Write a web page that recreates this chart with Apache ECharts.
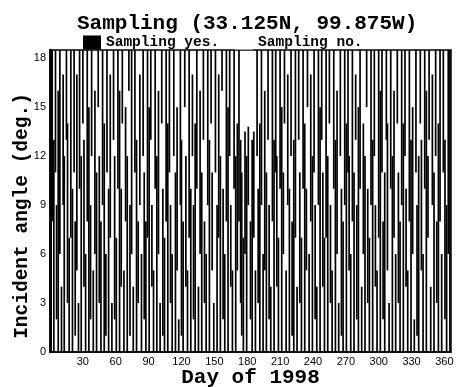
<!DOCTYPE html>
<html>
<head>
<meta charset="utf-8">
<script src="https://cdn.jsdelivr.net/npm/echarts@6/dist/echarts.min.js"></script>
<style>html,body{margin:0;padding:0;background:#fff;}#c{width:458px;height:387px;}</style>
</head>
<body>
<div id="c"></div>
<script>
// Sampling segments: day of year, lower and upper incident angle (deg.)
const days = [1,2,3.5,5,6,7.5,9,10.5,12,13,15,16,17.5,19,20.5,22,23,24.5,26,27,28.5,30,31,32.5,34,35.5,37,38,39.5,41,42.5,44,45,46.5,48,49.5,51,52,53.5,55,56.5,58,59,60.5,62,63.5,65,66,67.5,69,70.5,72,73,74.5,76,77.5,79,80.5,82,83.5,85,86,87.5,89,90.5,92,93,94.5,96,97.5,99,100.5,102,103,104.5,106,107.5,109,110,111.5,113,114.5,116,117.5,119,120,121.5,123,124,125.5,127,128.5,130,131,132.5,134,135.5,137,138.5,140,141,142.5,144,145.5,147,148,149.5,151,152.5,154,155.5,157,158,159.5,161,162.5,164,165,166.5,168,169.5,171,172.5,174,175,176.5,178,179.5,181,183,184.5,186,187.5,189,190,191.5,193,194.5,196,197.5,199,200,201.5,203,204.5,206,207,208.5,210,211.5,213,214,215.5,217,218.5,220,221,222.5,224,225.5,227,228,229.5,231,232.5,234,235,236.5,238,239.5,241,242,243.5,245,246.5,248,249,250.5,252,253.5,255,256,257.5,259,260.5,262,263.5,265,266,267.5,269,270.5,272,273,274.5,276,277.5,279,280,281.5,283,284.5,286,287.5,289,290,291.5,293,294.5,296,297,298.5,300,301.5,303,304,305.5,307,308,309.5,311,312.5,314,315.5,317,318,319.5,321,322.5,324,325,326.5,328,329.5,331,332.5,334,335,336.5,338,339,340.5,342,343.5,345,346,347.5,349,350.5,352,353,354.5,356,357.5,359,360.5,362,363.5,365];
const lows = [0,8,0,11,2,0,6,0,9,0,13,3,0,7,0,11,1,5,0,10,0,14,4,0,8,0,2,12,0,6,0,15,3,0,9,0,1,11,0,7,0,13,2,0,10,0,4,14,0,8,0,16,1,6,0,11,0,3,9,0,12,2,0,7,0,13,4,0,10,0,6,0,14,1,0,8,0,11,3,0,12,0,5,0,9,1,0,15,4,0,7,0,12,2,0,10,0,6,0,13,3,0,9,0,14,5,0,11,0,7,0,16,2,0,8,0,12,4,0,10,0,5,8,3,1,0,6,0,9,2,0,7,0,12,3,0,9,0,5,0,13,2,0,8,0,11,4,0,10,0,6,14,0,9,0,12,1,0,7,0,13,3,0,10,0,5,15,0,8,0,11,2,0,9,0,13,4,0,7,0,14,3,0,10,0,6,0,12,1,0,9,0,11,5,0,8,0,13,2,0,10,0,6,0,15,3,0,9,0,12,4,0,7,0,11,2,0,13,5,0,10,0,7,0,14,3,0,9,0,12,4,0,8,0,6,0,11,1,0,14,5,0,10,0,7,13,0,9,0,12,3,0,8,0,11,2,0,6,0];
const highs = [18.5,18.5,13,18.5,9,16,18.5,4,17,12,18.5,14,7,18.5,10,18.5,8,17,3,18.5,12,18.5,13,6,18.5,15,9,18.5,5,16,11,18.5,12,8,18.5,14,6,18.5,10,17,3,18.5,12,7,18.5,16,10,18.5,5,15,12,18.5,9,18.5,4,18.5,13,8,17,6,18.5,11,8,18.5,15,18.5,9,5,18.5,12,16,3,18.5,10,7,18.5,14,18.5,9,6,18.5,11,15,2,18.5,13,8,18.5,12,5,18.5,10,17,9,14,18.5,4,16,11,18.5,8,6,18.5,13,18.5,11,3,18.5,9,17,12,18.5,10,6,18.5,15,18.5,9,5,18.5,12,14,18.5,13,11,7,13.5,12,13.8,8,13,13.5,5,18.5,10,14,18.5,6,16,11,18.5,9,4,18.5,13,18.5,12,7,18.5,15,11,18.5,5,17,10,18.5,8,13,18.5,4,18.5,11,7,18.5,14,10,18.5,6,17,12,18.5,9,4,18.5,15,18.5,11,7,18.5,12,18.5,9,5,18.5,13,16,3,18.5,10,8,18.5,14,18.5,12,6,18.5,11,17,9,15,18.5,4,14,12,18.5,10,7,18.5,13,18.5,9,5,18.5,16,18.5,8,11,18.5,14,3,18.5,12,16,6,18.5,11,8,18.5,14,18.5,10,5,18.5,13,15,2,18.5,9,12,18.5,13,6,18.5,16,12,18.5,4,17,11,18.5,8,14,18.5,6,18.5,13,9,18.5,18.5];
const xTicks = [30,60,90,120,150,180,210,240,270,300,330,360];
const yTicks = [0,3,6,9,12,15,18];

const segs = days.map((d, i) => [d, lows[i], highs[i]]);
const mono = '"Courier New", "Liberation Mono", monospace';

const chart = echarts.init(document.getElementById('c'), null, {renderer: 'canvas'});
chart.setOption({
  animation: false,
  backgroundColor: '#fff',
  title: {
    text: 'Sampling (33.125N, 99.875W)',
    left: 72, top: 8,
    textStyle: {fontFamily: mono, fontWeight: 'bold', fontSize: 21, color: '#000'}
  },
  legend: {
    left: 78, top: 30, itemWidth: 18, itemHeight: 14, itemGap: 16,
    icon: 'rect',
    textStyle: {fontFamily: mono, fontWeight: 'bold', fontSize: 14.5, color: '#000'},
    data: ['Sampling yes.', 'Sampling no.']
  },
  grid: {left: 50, right: 7, top: 50, bottom: 35, show: true, borderColor: '#000', borderWidth: 1.5, containLabel: false, outerBoundsMode: 'none'},
  xAxis: {
    type: 'value', min: 0, max: 366, interval: 30,
    name: 'Day of 1998', nameLocation: 'middle', nameGap: 15, nameMoveOverlap: false,
    nameTextStyle: {fontFamily: mono, fontWeight: 'bold', fontSize: 21, color: '#000'},
    axisLine: {show: true, lineStyle: {color: '#000', width: 1.5}},
    axisTick: {show: false},
    splitLine: {show: false},
    axisLabel: {
      margin: 4, color: '#000', fontFamily: 'Liberation Sans, Arial, sans-serif', fontSize: 11,
      formatter: v => xTicks.indexOf(v) >= 0 ? String(v) : ''
    }
  },
  yAxis: {
    type: 'value', min: 0, max: 18.5, interval: 3,
    axisLine: {show: true, lineStyle: {color: '#000', width: 2.5}},
    axisTick: {show: false},
    splitLine: {show: false},
    axisLabel: {
      margin: 4, color: '#000', fontFamily: 'Liberation Sans, Arial, sans-serif', fontSize: 11,
      formatter: v => yTicks.indexOf(v) >= 0 ? String(v) : ''
    }
  },
  graphic: [{
    type: 'text', x: 22, y: 216, rotation: Math.PI / 2,
    style: {text: 'Incident angle (deg.)', font: 'bold 19.5px ' + mono, fill: '#000', align: 'center', verticalAlign: 'middle'}
  }],
  series: [{
    name: 'Sampling yes.',
    type: 'custom',
    color: '#000',
    data: segs,
    encode: {x: 0, y: [1, 2]},
    renderItem: function (params, api) {
      const d = api.value(0);
      const p0 = api.coord([d, api.value(1)]);
      const p1 = api.coord([d, api.value(2)]);
      return {type: 'line', shape: {x1: p0[0], y1: p0[1], x2: p1[0], y2: p1[1]}, style: {stroke: '#000', lineWidth: 1.7}};
    }
  }, {
    name: 'Sampling no.',
    type: 'custom',
    color: '#fff',
    data: [],
    renderItem: function () { return null; }
  }]
});
</script>
</body>
</html>
